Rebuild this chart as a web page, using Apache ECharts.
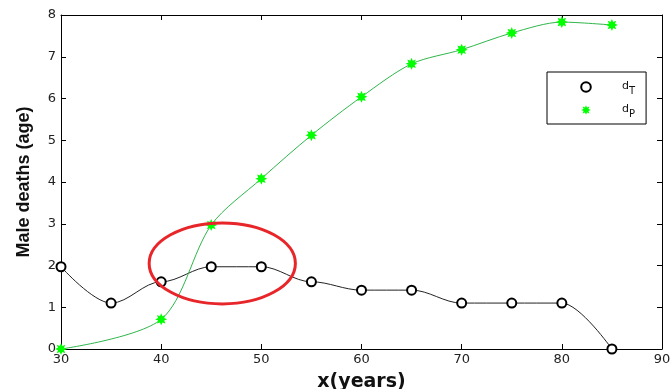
<!DOCTYPE html>
<html>
<head>
<meta charset="utf-8">
<script src="https://cdn.jsdelivr.net/npm/echarts@6/dist/echarts.min.js"></script>
<style>
html,body{margin:0;padding:0;background:#fff;}
#c{width:671px;height:389px;}
</style>
</head>
<body>
<div id="c"></div>
<script>
// Data
var ages = [30, 35, 40, 45, 50, 55, 60, 65, 70, 75, 80, 85];
var dT = [1.97, 1.10, 1.61, 1.97, 1.97, 1.61, 1.41, 1.41, 1.10, 1.10, 1.10, 0];
var agesP = [30, 40, 45, 50, 55, 60, 65, 70, 75, 80, 85];
var dP = [0, 0.71, 2.97, 4.08, 5.12, 6.04, 6.83, 7.17, 7.57, 7.83, 7.76];
var xTicks = [30, 40, 50, 60, 70, 80, 90];
var yTicks = [0, 1, 2, 3, 4, 5, 6, 7, 8];
// Annotation ellipse (data units): centre x, centre y, half-width (years), half-height
var ellipseCenter = [46.1, 2.05];
var ellipseRadius = [7.3, 0.97];

var starPath = 'path://M20 10 L15.08 12.10 L17.07 17.07 L12.10 15.08 L10 20 L7.90 15.08 L2.93 17.07 L4.92 12.10 L0 10 L4.92 7.90 L2.93 2.93 L7.90 4.92 L10 0 L12.10 4.92 L17.07 2.93 L15.08 7.90 Z';

function pairs(xs, ys) { return xs.map(function (x, i) { return [x, ys[i]]; }); }

var chart = echarts.init(document.getElementById('c'), null, {renderer: 'canvas'});
var tickFont = {fontFamily: 'DejaVu Sans', fontSize: 13, color: '#222'};
var boxAxisX = {
  type: 'value', min: xTicks[0], max: xTicks[xTicks.length - 1], interval: 10,
  splitLine: {show: false},
  axisLine: {show: true, onZero: false, lineStyle: {color: '#000', width: 1}},
  axisTick: {show: true, inside: true, length: 5, lineStyle: {color: '#000'}}
};
var boxAxisY = {
  type: 'value', min: yTicks[0], max: yTicks[yTicks.length - 1], interval: 1,
  splitLine: {show: false},
  axisLine: {show: true, onZero: false, lineStyle: {color: '#000', width: 1}},
  axisTick: {show: true, inside: true, length: 5, lineStyle: {color: '#000'}}
};

chart.setOption({
  animation: false,
  backgroundColor: '#fff',
  grid: {left: 61, right: 9, top: 15, bottom: 40, containLabel: false, outerBoundsMode: 'none'},
  xAxis: [
    Object.assign({}, boxAxisX, {
      position: 'bottom',
      axisLabel: Object.assign({margin: 4}, tickFont),
      name: 'x(years)', nameLocation: 'middle', nameGap: 24,
      nameTextStyle: {fontFamily: 'DejaVu Sans', fontWeight: 'bold', fontSize: 19, color: '#111'}
    }),
    Object.assign({}, boxAxisX, {position: 'top', axisLabel: {show: false}})
  ],
  yAxis: [
    Object.assign({}, boxAxisY, {
      position: 'left',
      axisLabel: Object.assign({margin: 5}, tickFont),
      name: 'Male deaths (age)', nameLocation: 'middle', nameGap: 28,
      nameTextStyle: {fontFamily: 'Liberation Sans', fontWeight: 'bold', fontSize: 18, color: '#111'}
    }),
    Object.assign({}, boxAxisY, {position: 'right', axisLabel: {show: false}})
  ],
  legend: {
    orient: 'vertical', left: 547, top: 72,
    padding: [9, 11, 5, 7],
    itemWidth: 62, itemHeight: 12, itemGap: 8,
    backgroundColor: '#fff', borderColor: '#000', borderWidth: 1,
    selectedMode: false,
    lineStyle: {opacity: 0},
    formatter: function (n) { return n === 'dT' ? '{b|d}{s|T}' : '{b|d}{s|P}'; },
    textStyle: {
      color: '#111',
      rich: {
        b: {fontFamily: 'DejaVu Sans', fontSize: 11, color: '#111', verticalAlign: 'top', lineHeight: 12},
        s: {fontFamily: 'DejaVu Sans', fontSize: 10, color: '#111', verticalAlign: 'top', padding: [5, 0, 0, 0], lineHeight: 12}
      }
    },
    data: ['dT', 'dP']
  },
  series: [
    {
      name: 'dT', type: 'line', data: pairs(ages, dT),
      smooth: 0.35, smoothMonotone: 'x',
      symbol: 'emptyCircle', symbolSize: 9,
      lineStyle: {color: '#222', width: 1},
      itemStyle: {color: '#000', borderColor: '#000', borderWidth: 1.6},
      z: 3
    },
    {
      name: 'dP', type: 'line', data: pairs(agesP, dP),
      smooth: 0.3,
      symbol: starPath, symbolSize: 12,
      lineStyle: {color: '#2fb54a', width: 1},
      itemStyle: {color: '#00ff00'},
      z: 4
    }
  ]
});

function drawEllipse() {
  var c = chart.convertToPixel({xAxisIndex: 0, yAxisIndex: 0}, ellipseCenter);
  var e = chart.convertToPixel({xAxisIndex: 0, yAxisIndex: 0},
    [ellipseCenter[0] + ellipseRadius[0], ellipseCenter[1] + ellipseRadius[1]]);
  chart.setOption({
    graphic: [{
      type: 'ellipse', z: 100,
      shape: {cx: c[0], cy: c[1], rx: Math.abs(e[0] - c[0]), ry: Math.abs(e[1] - c[1])},
      style: {fill: 'none', stroke: '#e8262a', lineWidth: 3}
    }]
  });
}
drawEllipse();
</script>
</body>
</html>
